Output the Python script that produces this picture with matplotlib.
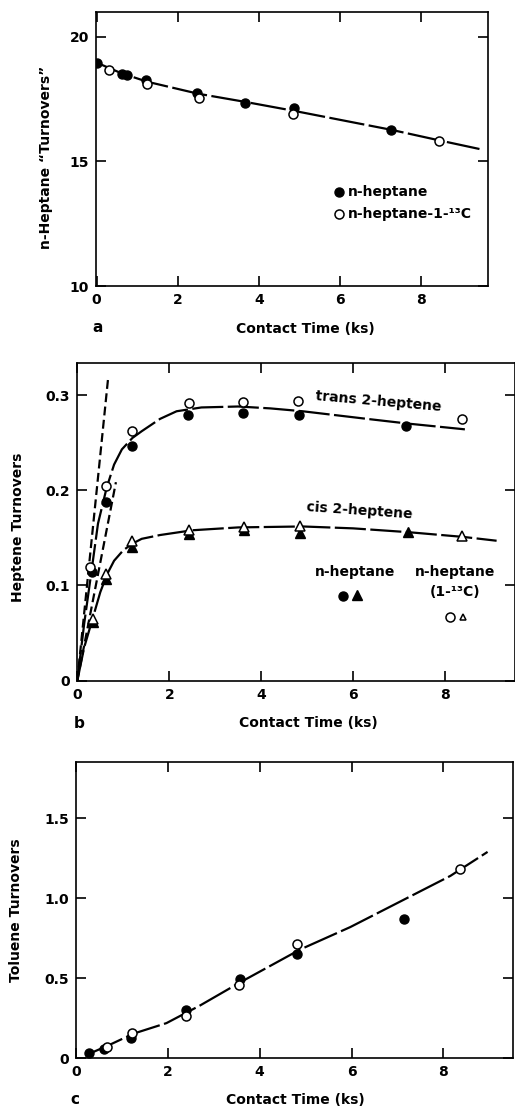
import matplotlib
matplotlib.use("Agg")
import matplotlib.pyplot as plt

plt.rcParams['font.family'] = ['DejaVu Sans']
plt.rcParams['font.weight'] = 'bold'

# ---------------- data: panel a ----------------
a_hep_x = [0.02, 0.62, 0.76, 1.21, 2.48, 3.65, 4.86, 7.26]
a_hep_y = [18.95, 18.51, 18.49, 18.29, 17.73, 17.36, 17.13, 16.27]
a_c13_x = [0.31, 1.25, 2.53, 4.84, 8.43]
a_c13_y = [18.69, 18.12, 17.56, 16.92, 15.83]
a_fit_x = [0.0, 0.6, 1.25, 2.5, 3.7, 4.9, 6.0, 7.26, 8.43, 9.43]
a_fit_y = [18.97, 18.55, 18.2, 17.72, 17.38, 17.02, 16.67, 16.27, 15.85, 15.5]

# ---------------- data: panel b ----------------
b_trans_hep_x = [0.33, 0.62, 1.20, 2.40, 3.60, 4.82, 7.15]
b_trans_hep_y = [0.114, 0.188, 0.246, 0.279, 0.281, 0.279, 0.267]
b_trans_c13_x = [0.28, 0.62, 1.20, 2.42, 3.61, 4.81, 8.37]
b_trans_c13_y = [0.1195, 0.204, 0.262, 0.292, 0.293, 0.294, 0.275]
b_cis_hep_x = [0.35, 0.62, 1.20, 2.44, 3.62, 4.85, 7.20]
b_cis_hep_y = [0.062, 0.107, 0.140, 0.154, 0.158, 0.155, 0.156]
b_cis_c13_x = [0.35, 0.62, 1.20, 2.42, 3.62, 4.85, 8.37]
b_cis_c13_y = [0.065, 0.112, 0.147, 0.158, 0.161, 0.163, 0.152]
b_trans_fit_x = [0, 0.15, 0.3, 0.45, 0.64, 0.8, 0.97, 1.2, 1.4, 1.8, 2.16, 2.7, 3.5, 4.2, 4.9, 5.6, 6.3, 7.2, 8.43]
b_trans_fit_y = [0, 0.06, 0.112, 0.165, 0.203, 0.227, 0.243, 0.255, 0.262, 0.275, 0.283, 0.287, 0.288, 0.286, 0.283, 0.279, 0.275, 0.270, 0.264]
b_cis_fit_x = [0, 0.15, 0.35, 0.5, 0.65, 0.8, 1.0, 1.2, 1.4, 1.8, 2.5, 3.5, 4.9, 6.0, 7.2, 8.4, 9.12]
b_cis_fit_y = [0, 0.035, 0.068, 0.093, 0.112, 0.126, 0.137, 0.144, 0.149, 0.153, 0.158, 0.161, 0.162, 0.160, 0.156, 0.151, 0.147]
b_init1_x = [0, 0.675]
b_init1_y = [0, 0.32]
b_init2_x = [0, 0.84]
b_init2_y = [0, 0.2085]

# ---------------- data: panel c ----------------
c_hep_x = [0.29, 0.60, 1.20, 2.40, 3.56, 4.82, 7.13]
c_hep_y = [0.033, 0.059, 0.128, 0.302, 0.496, 0.65, 0.871]
c_c13_x = [0.67, 1.21, 2.39, 3.54, 4.82, 8.36]
c_c13_y = [0.070, 0.159, 0.262, 0.46, 0.7125, 1.183]
c_fit_x = [0.3, 0.7, 1.25, 1.97, 2.7, 3.57, 4.88, 5.97, 7.06, 8.15, 8.96]
c_fit_y = [0.03, 0.08, 0.154, 0.22, 0.33, 0.474, 0.68, 0.82, 0.98, 1.14, 1.29]

W, H = 515, 1109
fig = plt.figure(figsize=(W / 100, H / 100), dpi=100)

def box(l, t, r, b):
    return [l / W, 1 - b / H, (r - l) / W, (b - t) / H]

def ftext(px, py, s, **kw):
    kw.setdefault('ha', 'center')
    kw.setdefault('va', 'center')
    kw.setdefault('fontsize', 10)
    kw.setdefault('fontweight', 'bold')
    fig.text(px / W, 1 - py / H, s, **kw)

def style(ax):
    for sp in ax.spines.values():
        sp.set_linewidth(1.2)
    ax.tick_params(direction='in', length=7, width=1.2, top=True, right=True,
                   labelsize=10, pad=5)
    for lab in ax.get_xticklabels() + ax.get_yticklabels():
        lab.set_fontweight('bold')

LW = 1.6
msz = 6.5
filled = dict(marker='o', ms=msz, mfc='black', mec='black', ls='none', zorder=4)
opened = dict(marker='o', ms=msz, mfc='white', mec='black', mew=1.1, ls='none', zorder=4)

# ---------------- panel a ----------------
ax = fig.add_axes(box(95.7, 12, 488, 286))
ax.plot(a_fit_x, a_fit_y, color='black', lw=LW, dashes=(16, 2), zorder=2)
ax.plot(a_hep_x, a_hep_y, **filled)
ax.plot(a_c13_x, a_c13_y, **opened)
ax.set_xlim(-0.02, 9.64)
ax.set_ylim(10, 21)
ax.set_xticks([0, 2, 4, 6, 8])
ax.set_yticks([10, 15, 20])
style(ax)
ax.plot([5.96], [13.78], **filled)
ax.plot([5.96], [12.9], **opened)
ax.text(6.2, 13.78, 'n-heptane', fontsize=10, fontweight='bold', va='center')
ax.text(6.2, 12.9, 'n-heptane-1-\u00b9\u00b3C', fontsize=10, fontweight='bold', va='center')
ftext(305, 329, 'Contact Time (ks)')
ftext(46, 157, 'n-Heptane \u201cTurnovers\u201d', rotation=90)
ftext(98, 328, 'a', fontsize=11)

# ---------------- panel b ----------------
ax = fig.add_axes(box(77.3, 362.7, 515, 680.7))
ax.plot(b_init1_x, b_init1_y, color='black', lw=LW, dashes=(4, 2), zorder=2)
ax.plot(b_init2_x, b_init2_y, color='black', lw=LW, dashes=(4, 2), zorder=2)
ax.plot(b_trans_fit_x, b_trans_fit_y, color='black', lw=LW, dashes=(14, 2), zorder=2)
ax.plot(b_cis_fit_x, b_cis_fit_y, color='black', lw=LW, dashes=(14, 2), zorder=2)
ax.plot(b_trans_hep_x, b_trans_hep_y, **filled)
ax.plot(b_trans_c13_x, b_trans_c13_y, **opened)
tri_f = dict(filled, marker='^')
tri_o = dict(opened, marker='^')
ax.plot(b_cis_hep_x, b_cis_hep_y, **tri_f)
ax.plot(b_cis_c13_x, b_cis_c13_y, **tri_o)
ax.set_xlim(0, 9.52)
ax.set_ylim(0, 0.334)
ax.set_xticks([0, 2, 4, 6, 8])
ax.set_yticks([0, 0.1, 0.2, 0.3])
ax.set_yticklabels(['0', '0.1', '0.2', '0.3'])
style(ax)
ax.text(6.55, 0.293, 'trans 2-heptene', fontsize=10, fontweight='bold',
        ha='center', va='center', rotation=-5)
ax.text(6.13, 0.179, 'cis 2-heptene', fontsize=10, fontweight='bold',
        ha='center', va='center', rotation=-4)
ax.text(6.04, 0.114, 'n-heptane', fontsize=10, fontweight='bold', ha='center', va='center')
ax.text(8.22, 0.114, 'n-heptane', fontsize=10, fontweight='bold', ha='center', va='center')
ax.text(8.22, 0.093, '(1-\u00b9\u00b3C)', fontsize=10, fontweight='bold', ha='center', va='center')
ax.plot([5.77], [0.0885], **filled)
ax.plot([6.09], [0.0895], **tri_f)
ax.plot([8.11], [0.067], **opened)
ax.plot([8.38], [0.067], **dict(tri_o, ms=5))
ftext(308, 723, 'Contact Time (ks)')
ftext(18, 527, 'Heptene Turnovers', rotation=90)
ftext(79, 723, 'b', fontsize=11)

# ---------------- panel c ----------------
ax = fig.add_axes(box(76, 762.3, 513.3, 1058.3))
ax.plot(c_fit_x, c_fit_y, color='black', lw=LW, dashes=(16, 2), zorder=2)
ax.plot(c_hep_x, c_hep_y, **filled)
ax.plot(c_c13_x, c_c13_y, **opened)
ax.set_xlim(0, 9.52)
ax.set_ylim(0, 1.85)
ax.set_xticks([0, 2, 4, 6, 8])
ax.set_yticks([0, 0.5, 1.0, 1.5])
ax.set_yticklabels(['0', '0.5', '1.0', '1.5'])
style(ax)
ftext(295, 1100, 'Contact Time (ks)')
ftext(16, 910, 'Toluene Turnovers', rotation=90)
ftext(75, 1100, 'c', fontsize=11)

fig.savefig('out.png', dpi=100)
